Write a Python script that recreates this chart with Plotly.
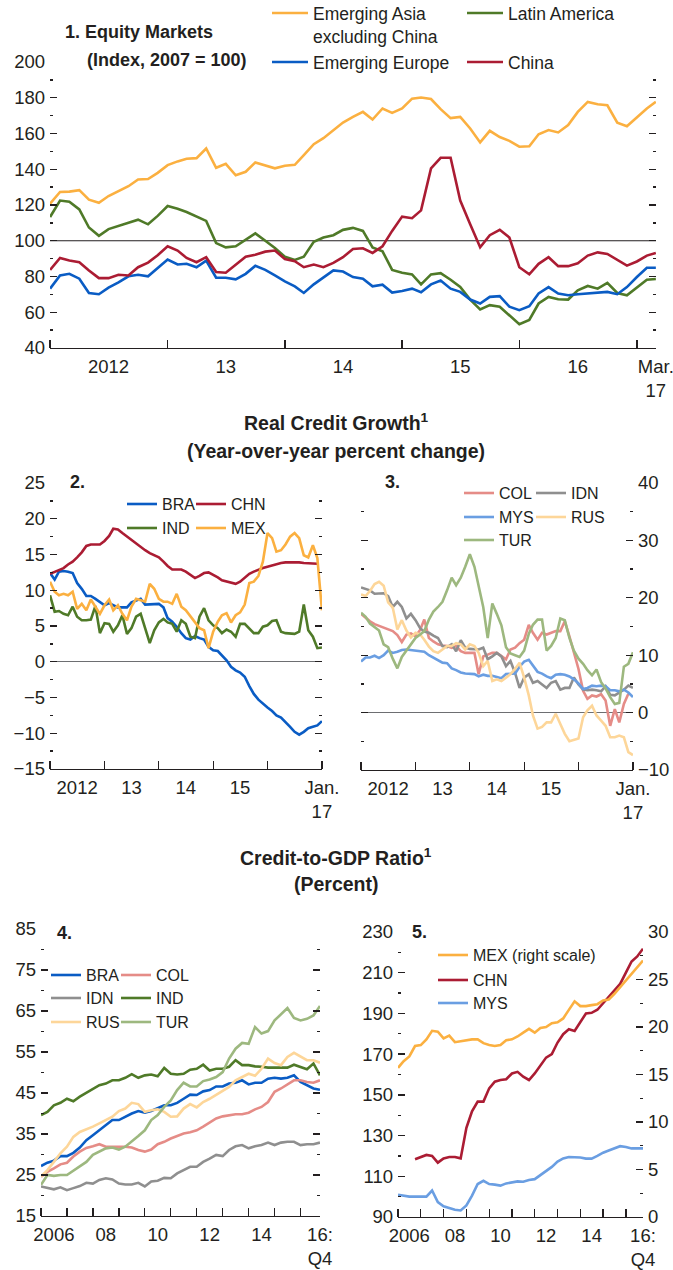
import plotly.graph_objects as go
import pandas as pd

W, H = 673, 1270
FONT = "Liberation Sans, Arial, sans-serif"
TXT = "#231f20"
FS_TICK = 18.5
FS_LEG1 = 17.5
FS_LEG = 16
FS_SEC = 19.5
FS_PAN = 18

# ---------------- DATA ----------------
months_eq = pd.date_range("2012-01-01", periods=63, freq="MS")   # Jan 2012 - Mar 2017
months_cr = pd.date_range("2012-01-01", periods=61, freq="MS")   # Jan 2012 - Jan 2017
quarters = pd.date_range("2006-01-01", periods=44, freq="QS")    # 2006Q1 - 2016Q4

# Panel 1: Equity markets (Index, 2007 = 100)
eq_asia = [120.7, 127.3, 127.5, 128.3, 123.0, 121.2, 125.0, 127.7, 130.5, 134.3,
           134.5, 138.0, 142.3, 144.4, 145.9, 146.2, 151.6, 140.8, 143.0, 136.6,
           138.6, 143.8, 142.0, 140.5, 142.0, 142.5, 147.9, 154.0, 157.4, 161.9,
           166.1, 169.3, 172.1, 167.8, 174.0, 171.5, 174.0, 179.5, 180.1, 179.3,
           173.6, 168.6, 169.3, 162.8, 155.0, 161.5, 158.0, 155.9, 152.6, 152.9,
           159.6, 161.9, 160.6, 164.7, 172.1, 177.7, 176.4, 175.8, 166.1, 164.1,
           168.9, 174.0, 177.7]
eq_latam = [113.3, 122.5, 121.8, 117.5, 107.4, 102.8, 106.5, 108.3, 110.2, 111.8,
            109.2, 113.9, 119.4, 117.9, 116.1, 113.7, 111.1, 98.7, 96.3, 96.9,
            100.4, 104.1, 100.0, 95.9, 91.1, 89.3, 91.1, 99.4, 101.8, 103.1,
            106.1, 107.2, 105.5, 96.3, 94.1, 83.7, 82.1, 81.2, 75.6, 81.2,
            81.9, 78.2, 74.1, 67.1, 61.6, 64.0, 63.1, 58.4, 53.3, 55.7,
            64.9, 68.6, 67.3, 67.1, 72.3, 74.7, 73.2, 76.4, 70.8, 69.5,
            73.8, 78.2, 78.6]
eq_europe = [73.2, 80.6, 81.5, 78.8, 70.8, 70.1, 73.8, 76.7, 80.1, 81.0,
             80.1, 84.9, 89.5, 86.7, 87.1, 85.2, 88.9, 79.3, 79.3, 78.4,
             81.5, 86.0, 83.7, 80.6, 77.3, 74.5, 70.8, 75.6, 79.3, 83.4,
             82.8, 79.7, 78.8, 74.5, 75.4, 71.0, 71.9, 73.2, 71.2, 75.6,
             77.8, 73.2, 71.4, 67.1, 64.9, 68.6, 69.0, 63.1, 61.2, 63.4,
             70.5, 74.1, 70.5, 69.5, 70.1, 70.5, 70.8, 71.4, 70.1, 74.1,
             79.7, 84.9, 84.9]
eq_china = [83.7, 90.4, 88.9, 88.0, 83.4, 79.1, 79.1, 81.0, 80.6, 85.2,
            87.8, 91.9, 96.9, 94.5, 90.4, 88.0, 90.8, 82.5, 82.1, 86.5,
            91.1, 92.2, 93.9, 94.5, 89.8, 88.6, 85.2, 86.7, 85.2, 87.6,
            90.8, 95.4, 95.8, 93.2, 96.9, 105.5, 113.5, 112.6, 117.0, 140.5,
            146.4, 146.4, 122.5, 109.2, 96.3, 103.1, 106.1, 101.8, 85.2, 81.2,
            87.1, 90.8, 85.8, 85.8, 87.4, 91.7, 93.5, 92.6, 89.3, 86.1,
            88.4, 91.7, 93.2]

# Panel 2: Real credit growth (percent)
cg_bra = [12.4, 11.5, 12.6, 12.7, 12.6, 12.4, 11.0, 10.2, 9.2, 9.2,
          8.8, 8.4, 7.9, 8.2, 7.9, 7.6, 7.6, 7.6, 8.3, 8.6,
          8.8, 8.0, 8.0, 8.0, 8.1, 7.6, 6.1, 5.6, 4.9, 4.0,
          3.3, 3.1, 3.6, 3.3, 3.1, 2.1, 1.6, 1.5, 0.9, 0.2,
          -0.7, -1.2, -1.5, -2.1, -3.4, -4.5, -5.3, -5.9, -6.4, -6.9,
          -7.5, -7.8, -8.4, -9.1, -9.8, -10.2, -9.8, -9.3, -9.1, -8.9,
          -8.3]
cg_chn = [12.3, 12.6, 12.9, 13.1, 13.6, 14.0, 14.6, 15.3, 16.2, 16.4,
          16.4, 16.4, 16.9, 17.6, 18.6, 18.5, 18.0, 17.5, 17.0, 16.5,
          16.0, 15.6, 15.2, 14.9, 14.6, 14.0, 13.4, 12.9, 12.9, 12.9,
          12.6, 12.1, 11.7, 12.0, 12.4, 12.5, 12.2, 11.8, 11.4, 11.2,
          11.0, 10.9, 11.2, 11.7, 12.3, 12.6, 12.9, 13.1, 13.3, 13.5,
          13.6, 13.8, 13.9, 13.9, 14.0, 13.9, 13.8, 13.8, 13.7, 13.7,
          None]
cg_ind = [9.3, 7.0, 7.1, 6.7, 6.5, 7.7, 6.3, 5.8, 5.8, 5.9,
          7.8, 4.0, 5.4, 5.3, 4.2, 5.1, 6.5, 3.9, 4.7, 6.3,
          6.7, 4.7, 2.6, 4.4, 5.5, 6.0, 5.5, 5.3, 4.2, 5.8,
          5.3, 3.5, 3.3, 6.3, 7.5, 5.8, 5.1, 4.7, 4.0, 4.5,
          4.2, 3.5, 5.3, 5.3, 4.7, 4.0, 4.0, 4.9, 5.1, 5.7,
          5.8, 4.2, 4.0, 3.9, 3.9, 4.2, 8.0, 4.4, 3.5, 1.9,
          2.0]
cg_mex = [11.2, 9.8, 9.3, 9.5, 9.3, 9.8, 7.4, 8.1, 7.2, 8.7,
          7.7, 6.7, 7.9, 8.7, 7.2, 7.9, 6.7, 5.8, 7.7, 8.8,
          8.6, 8.4, 10.9, 10.2, 8.8, 8.4, 8.4, 8.1, 9.5, 7.7,
          7.2, 6.3, 5.4, 4.7, 4.4, 1.9, 4.2, 5.6, 6.5, 6.8,
          5.5, 6.5, 6.9, 8.0, 11.0, 11.2, 12.0, 14.0, 18.0, 17.3,
          15.4, 15.6, 16.4, 17.5, 18.0, 17.3, 14.9, 14.6, 16.3, 14.5,
          7.2]

# Panel 3: Real credit growth (percent)
cg_col = [17.2, 16.5, 15.9, 15.4, 15.1, 14.8, 14.6, 14.2, 13.5, 12.3,
          13.6, 13.8, 13.3, 14.4, 16.2, 13.0, 12.4, 11.9, 11.7, 11.6,
          11.3, 11.6, 10.7, 10.4, 10.4, 10.4, 6.7, 9.8, 10.1, 10.4,
          10.4, 9.8, 9.3, 11.0, 11.3, 12.1, 12.7, 15.3, 13.9, 12.7,
          13.9, 13.6, 13.9, 14.2, 14.2, 15.9, 13.3, 10.4, 7.6, 3.8,
          2.4, 3.0, 2.8, 3.2, 2.1, -2.3, 0.6, -1.7, 1.5, 3.3,
          None]
cg_idn = [21.8, 21.6, 21.3, 20.7, 20.7, 20.8, 20.3, 18.4, 19.3, 18.4,
          16.4, 17.2, 16.1, 14.7, 14.1, 13.9, 13.4, 13.0, 11.6, 11.4,
          11.9, 10.7, 12.6, 11.3, 11.1, 11.0, 11.0, 11.3, 9.3, 9.8,
          10.4, 9.8, 8.1, 9.0, 6.9, 4.3, 6.1, 6.7, 5.2, 5.5,
          4.9, 4.3, 5.2, 5.5, 4.0, 4.3, 4.3, 6.1, 4.9, 4.0,
          3.9, 4.0, 3.9, 3.7, 4.6, 3.1, 3.0, 3.5, 4.0, 4.7,
          4.3]
cg_mys = [8.9, 9.6, 9.6, 9.9, 9.5, 10.0, 10.8, 10.4, 10.6, 10.9,
          11.0, 10.9, 10.9, 10.8, 10.6, 10.0, 9.6, 9.2, 8.7, 8.6,
          7.7, 7.4, 7.0, 6.8, 6.8, 6.7, 6.3, 6.6, 6.4, 6.4,
          6.2, 6.0, 6.7, 6.7, 6.8, 8.0, 8.9, 9.2, 8.3, 7.1,
          6.8, 6.3, 6.0, 6.6, 6.7, 6.6, 6.3, 5.8, 5.1, 4.1,
          4.3, 4.7, 4.6, 4.7, 4.6, 3.9, 3.9, 3.7, 4.0, 3.5,
          2.7]
cg_rus = [20.6, 20.3, 21.2, 22.4, 22.8, 22.1, 19.2, 18.3, 14.5, 16.1,
          14.3, 13.1, 13.9, 13.6, 12.7, 11.5, 10.7, 10.4, 11.0, 11.6,
          11.6, 12.1, 11.9, 11.0, 11.9, 11.6, 10.4, 8.1, 9.0, 5.5,
          5.8, 5.5, 6.1, 6.7, 7.6, 8.7, 6.1, 3.0, -0.5, -2.8,
          -2.5, -1.7, -1.7, -0.2, -2.0, -3.7, -5.0, -4.8, -4.5, -0.8,
          0.4, 1.2, -0.5, -1.4, -2.3, -4.3, -4.3, -4.0, -4.3, -6.9,
          -7.4]
cg_tur = [17.4, 16.7, 15.5, 14.9, 14.3, 11.9, 11.4, 9.4, 7.7, 9.7,
          10.8, 11.9, 13.0, 13.6, 14.2, 16.2, 17.6, 18.4, 19.3, 21.3,
          23.5, 22.2, 23.5, 25.4, 27.6, 25.4, 22.2, 18.4, 13.0, 19.0,
          17.2, 15.2, 11.4, 10.3, 10.0, 9.7, 10.8, 13.7, 15.3, 16.2,
          16.2, 10.8, 11.6, 13.0, 16.4, 16.1, 13.0, 10.8, 9.4, 8.5,
          7.4, 6.5, 7.5, 5.3, 4.2, 2.7, 1.5, 1.7, 8.0, 8.5,
          10.5]

# Panel 4: Credit-to-GDP ratio (percent)
gdp_bra = [27.2, 28.0, 28.5, 29.6, 29.6, 30.4, 31.7, 33.5, 34.7, 35.9,
           37.2, 38.4, 38.4, 39.2, 40.0, 40.6, 40.2, 40.6, 41.2, 42.0,
           42.0, 42.6, 43.6, 44.6, 44.5, 45.4, 45.7, 46.6, 46.6, 47.3,
           47.5, 48.1, 47.1, 47.5, 47.5, 48.5, 48.7, 48.5, 48.7, 49.3,
           47.7, 46.9, 46.1, 45.8]
gdp_col = [24.6, 25.8, 26.6, 27.6, 28.0, 29.5, 30.7, 31.6, 32.0, 32.5,
           31.9, 31.9, 32.0, 31.9, 31.7, 31.1, 30.7, 31.2, 32.5, 33.1,
           33.9, 34.5, 35.1, 35.4, 35.9, 36.8, 37.7, 38.8, 39.3, 39.6,
           39.8, 39.8, 40.2, 41.0, 41.6, 42.8, 45.3, 46.1, 47.1, 48.1,
           48.1, 47.7, 47.5, 48.1]
gdp_idn = [22.2, 21.8, 21.5, 22.0, 21.3, 21.8, 22.3, 23.1, 22.9, 23.8,
           24.2, 23.9, 22.9, 22.7, 22.7, 23.1, 22.2, 23.4, 23.6, 24.3,
           24.2, 25.4, 26.2, 27.0, 27.0, 28.2, 29.0, 29.9, 29.6, 31.1,
           32.0, 32.3, 31.5, 32.0, 32.3, 32.9, 32.3, 32.9, 33.1, 33.1,
           32.3, 32.5, 32.5, 32.9]
gdp_ind = [39.6, 40.4, 42.0, 42.6, 43.6, 43.0, 44.1, 45.0, 46.1, 46.9,
           47.3, 48.1, 48.1, 48.7, 49.6, 48.7, 49.3, 49.5, 49.1, 51.1,
           49.7, 49.5, 49.7, 50.7, 50.9, 51.9, 50.5, 50.9, 50.9, 51.4,
           53.0, 51.8, 51.8, 51.5, 51.4, 51.2, 51.2, 51.2, 51.2, 51.9,
           51.4, 50.8, 52.2, 49.3]
gdp_rus = [24.6, 26.2, 28.2, 30.3, 31.9, 34.3, 35.5, 36.1, 36.8, 37.6,
           38.4, 39.2, 40.6, 41.2, 42.6, 42.3, 40.4, 40.8, 41.0, 40.4,
           39.2, 39.3, 41.2, 42.3, 41.5, 42.8, 43.6, 44.6, 45.4, 46.5,
           48.1, 48.9, 49.7, 49.2, 50.9, 53.4, 52.3, 51.8, 53.8, 54.8,
           53.8, 53.0, 53.0, 52.4]
gdp_tur = [22.6, 25.0, 24.8, 25.0, 25.0, 26.0, 27.2, 28.2, 29.9, 30.7,
           31.5, 31.7, 31.2, 31.9, 33.1, 34.5, 35.9, 38.4, 39.6, 41.6,
           43.2, 45.7, 47.5, 46.6, 46.6, 47.9, 48.3, 48.9, 50.1, 53.4,
           55.8, 57.2, 57.0, 61.1, 59.5, 60.1, 62.7, 64.2, 65.7, 63.3,
           62.7, 63.1, 63.9, 66.2]

# Panel 5: Credit-to-GDP ratio (percent)
gdp_mex = [15.7, 16.4, 16.9, 18.0, 18.1, 18.7, 19.6, 19.5, 18.8, 19.1,
           18.4, 18.5, 18.6, 18.7, 18.7, 18.3, 18.1, 18.0, 18.1, 18.6,
           18.7, 19.0, 19.4, 19.8, 19.4, 19.9, 20.0, 20.4, 20.5, 20.9,
           21.8, 22.7, 22.2, 22.2, 22.3, 22.4, 22.8, 22.9, 23.5, 24.2,
           24.9, 25.6, 26.4, 27.0]
gdp_chn = [None, None, None, 118.4, 119.5, 120.5, 120.0, 116.7, 118.8, 119.5,
           119.5, 118.8, 133.8, 141.9, 146.7, 146.7, 153.2, 156.5, 157.3, 157.7,
           160.5, 161.3, 158.9, 157.3, 160.5, 164.6, 168.3, 170.0, 175.7, 179.8,
           182.2, 181.4, 186.0, 190.0, 190.3, 191.8, 195.0, 198.2, 201.0, 204.5,
           210.0, 215.5, 218.0, 221.8]
gdp_mys = [100.9, 100.5, 100.0, 100.0, 100.0, 100.0, 103.0, 97.3, 95.3, 94.4,
           93.6, 93.2, 95.7, 100.5, 106.2, 107.8, 106.2, 105.9, 105.4, 106.5,
           107.0, 107.5, 107.3, 108.2, 108.6, 110.6, 112.7, 114.6, 117.2, 118.8,
           119.5, 119.5, 119.2, 118.7, 118.7, 120.0, 121.6, 122.7, 123.7, 124.8,
           124.4, 123.7, 123.7, 123.7]

# tick labels
eq_tickvals = ["2012-07-01", "2013-07-01", "2014-07-01", "2015-07-01", "2016-07-01", "2017-03-01"]
eq_ticktext = ["2012", "13", "14", "15", "16", "Mar.<br>17"]
cr_tickvals = ["2012-07-01", "2013-07-01", "2014-07-01", "2015-07-01", "2016-12-31 12:00"]
cr_ticktext = ["2012", "13", "14", "15", "Jan.<br>17"]
yr_ticks_m = ["2012-01-01", "2013-01-01", "2014-01-01", "2015-01-01", "2016-01-01", "2017-01-01"]
q_tickvals = ["2006-07-01", "2008-07-01", "2010-07-01", "2012-07-01", "2014-07-01", "2016-10-01"]
q_ticktext = ["2006", "08", "10", "12", "14", "16:<br>Q4"]
yr_ticks_q = ["%d-01-01" % y for y in range(2006, 2017)]

# colours
C_YEL = "#fbb040"
C_GRN = "#4f7a28"
C_BLU = "#0a5cc4"
C_RED = "#ab1c33"
C_LRED = "#e58c87"
C_GRY = "#8f8f8f"
C_LBLU = "#6a9ee2"
C_LYEL = "#fdd699"
C_LGRN = "#9db87f"

# ---------------- FIGURE ----------------
def fx(p):
    return p / W


def fy(p):
    return 1 - p / H


fig = go.Figure()
legends = {}
_n = [0]


def add(x, y, name, color, xa, ya, text_x, row_c, fs=FS_LEG, iw=30):
    _n[0] += 1
    key = "legend" if _n[0] == 1 else "legend%d" % _n[0]
    fig.add_trace(go.Scatter(x=x, y=y, name=name, mode="lines",
                             line=dict(color=color, width=2.6),
                             xaxis=xa, yaxis=ya, legend=key,
                             hoverinfo="skip"))
    top = row_c - (5 + (1.3 * fs + 3) / 2)
    legends[key] = dict(x=fx(text_x - iw - 10), y=fy(top), xanchor="left", yanchor="top",
                        orientation="v", itemwidth=iw,
                        font=dict(family=FONT, size=fs, color=TXT),
                        bgcolor="rgba(0,0,0,0)", borderwidth=0, valign="top",
                        itemclick=False, itemdoubleclick=False)


add(months_eq, eq_asia, "Emerging Asia<br>excluding China", C_YEL, "x", "y", 313, 13, FS_LEG1, 36)
add(months_eq, eq_latam, "Latin America", C_GRN, "x", "y", 508, 13, FS_LEG1, 36)
add(months_eq, eq_europe, "Emerging Europe", C_BLU, "x", "y", 313, 62, FS_LEG1, 36)
add(months_eq, eq_china, "China", C_RED, "x", "y", 508, 62, FS_LEG1, 36)

add(months_cr, cg_bra, "BRA", C_BLU, "x2", "y2", 162, 504)
add(months_cr, cg_chn, "CHN", C_RED, "x2", "y2", 231, 504)
add(months_cr, cg_ind, "IND", C_GRN, "x2", "y2", 162, 528)
add(months_cr, cg_mex, "MEX", C_YEL, "x2", "y2", 231, 528)

add(months_cr, cg_col, "COL", C_LRED, "x3", "y3", 499, 493)
add(months_cr, cg_idn, "IDN", C_GRY, "x3", "y3", 571, 493)
add(months_cr, cg_mys, "MYS", C_LBLU, "x3", "y3", 499, 517)
add(months_cr, cg_rus, "RUS", C_LYEL, "x3", "y3", 571, 517)
add(months_cr, cg_tur, "TUR", C_LGRN, "x3", "y3", 499, 540)

add(quarters, gdp_bra, "BRA", C_BLU, "x4", "y4", 86, 975)
add(quarters, gdp_col, "COL", C_LRED, "x4", "y4", 156, 975)
add(quarters, gdp_idn, "IDN", C_GRY, "x4", "y4", 86, 998)
add(quarters, gdp_ind, "IND", C_GRN, "x4", "y4", 156, 998)
add(quarters, gdp_rus, "RUS", C_LYEL, "x4", "y4", 86, 1022)
add(quarters, gdp_tur, "TUR", C_LGRN, "x4", "y4", 156, 1022)

add(quarters, gdp_mex, "MEX (right scale)", C_YEL, "x5", "y6", 473, 955)
add(quarters, gdp_chn, "CHN", C_RED, "x5", "y5", 473, 980)
add(quarters, gdp_mys, "MYS", C_LBLU, "x5", "y5", 473, 1003)

tickfont = dict(family=FONT, size=FS_TICK, color=TXT)


def xcfg(left, right, anchor, rng, tv, tt, minor_vals):
    return dict(domain=[fx(left), fx(right)], anchor=anchor, type="date", range=rng,
                showline=True, linecolor=TXT, linewidth=1.4, showgrid=False, zeroline=False,
                tickmode="array", tickvals=tv, ticktext=tt, ticks="", tickfont=tickfont,
                ticklabelstandoff=1, ticklabeloverflow="allow",
                minor=dict(tickmode="array", tickvals=minor_vals, ticks="inside", ticklen=8,
                           tickwidth=1.3, tickcolor=TXT, showgrid=False),
                fixedrange=True)


def ycfg(top, bottom, anchor, rng, tick0, dtick, mdtick, side="left", mirror=True, zero=False):
    d = dict(domain=[fy(bottom), fy(top)], anchor=anchor, range=rng, side=side,
             showline=False, showgrid=False, zeroline=zero,
             tickmode="linear", tick0=tick0, dtick=dtick, ticks="inside", ticklen=7,
             tickwidth=1.3, tickcolor=TXT, tickfont=tickfont, ticklabelstandoff=4,
             ticklabeloverflow="allow",
             minor=dict(tickmode="linear", tick0=tick0, dtick=mdtick, ticks="inside", ticklen=3,
                        tickwidth=1.3, tickcolor=TXT, showgrid=False),
             fixedrange=True)
    if zero:
        d.update(zerolinecolor="#6d6e71", zerolinewidth=1.4)
    if mirror:
        d["mirror"] = "ticks"
    return d


layout = dict(
    width=W, height=H, paper_bgcolor="white", plot_bgcolor="white",
    margin=dict(l=0, r=0, t=0, b=0, autoexpand=False),
    font=dict(family=FONT, size=FS_TICK, color=TXT),
    showlegend=True, hovermode=False,
    xaxis=xcfg(50, 656, "y", ["2011-12-31 18:00", "2017-03-01 12:00"], eq_tickvals, eq_ticktext, yr_ticks_m),
    yaxis=ycfg(62, 348, "x", [40, 200], 40, 20, 10),
    xaxis2=xcfg(50, 322, "y2", ["2011-12-31 18:00", "2017-01-01 06:00"], cr_tickvals, cr_ticktext, yr_ticks_m),
    yaxis2=ycfg(483, 769, "x2", [-15, 25], -15, 5, 2.5, zero=True),
    xaxis3=xcfg(361, 633, "y3", ["2011-12-31 18:00", "2017-01-01 06:00"], cr_tickvals, cr_ticktext, yr_ticks_m),
    yaxis3=ycfg(483, 770, "x3", [-10, 40], -10, 10, 5, side="right", zero=True),
    xaxis4=xcfg(41, 320, "y4", ["2005-12-31 18:00", "2016-10-01 06:00"], q_tickvals, q_ticktext, yr_ticks_q),
    yaxis4=ycfg(929, 1216, "x4", [15, 85], 15, 10, 5),
    xaxis5=xcfg(398, 643, "y5", ["2005-12-31 18:00", "2016-10-01 06:00"], q_tickvals, q_ticktext, yr_ticks_q),
    yaxis5=ycfg(932, 1217, "x5", [90, 230], 90, 20, 10, mirror=False),
    yaxis6=dict(ycfg(932, 1217, "x5", [0, 30], 0, 5, 2.5, side="right", mirror=False), overlaying="y5"),
)
layout.update(legends)
fig.update_layout(**layout)

# reference line at 100 in panel 1
fig.add_shape(type="line", xref="x domain", yref="y", x0=0, x1=1, y0=100, y1=100,
              line=dict(color=TXT, width=1.2), layer="below")


# titles and panel labels
def note(text, x, y, anchor="left", size=FS_PAN):
    fig.add_annotation(text=text, xref="paper", yref="paper", x=fx(x), y=fy(y),
                       xanchor=anchor, yanchor="middle", showarrow=False,
                       font=dict(family=FONT, size=size, color=TXT))


note("<b>1. Equity Markets</b>", 63, 32)
note("<b>(Index, 2007 = 100)</b>", 85, 60)
note("<b>Real Credit Growth<sup>1</sup></b>", 336, 422, anchor="center", size=FS_SEC)
note("<b>(Year-over-year percent change)</b>", 336, 451, anchor="center", size=FS_SEC)
note("<b>2.</b>", 68, 482)
note("<b>3.</b>", 383, 482)
note("<b>Credit-to-GDP Ratio<sup>1</sup></b>", 336, 857, anchor="center", size=FS_SEC)
note("<b>(Percent)</b>", 336, 884, anchor="center", size=FS_SEC)
note("<b>4.</b>", 55, 933)
note("<b>5.</b>", 410, 932)

fig.write_html("out.html",
               config={"displayModeBar": False, "staticPlot": True},
               post_script="document.body.style.margin='0';document.body.style.padding='0';")
